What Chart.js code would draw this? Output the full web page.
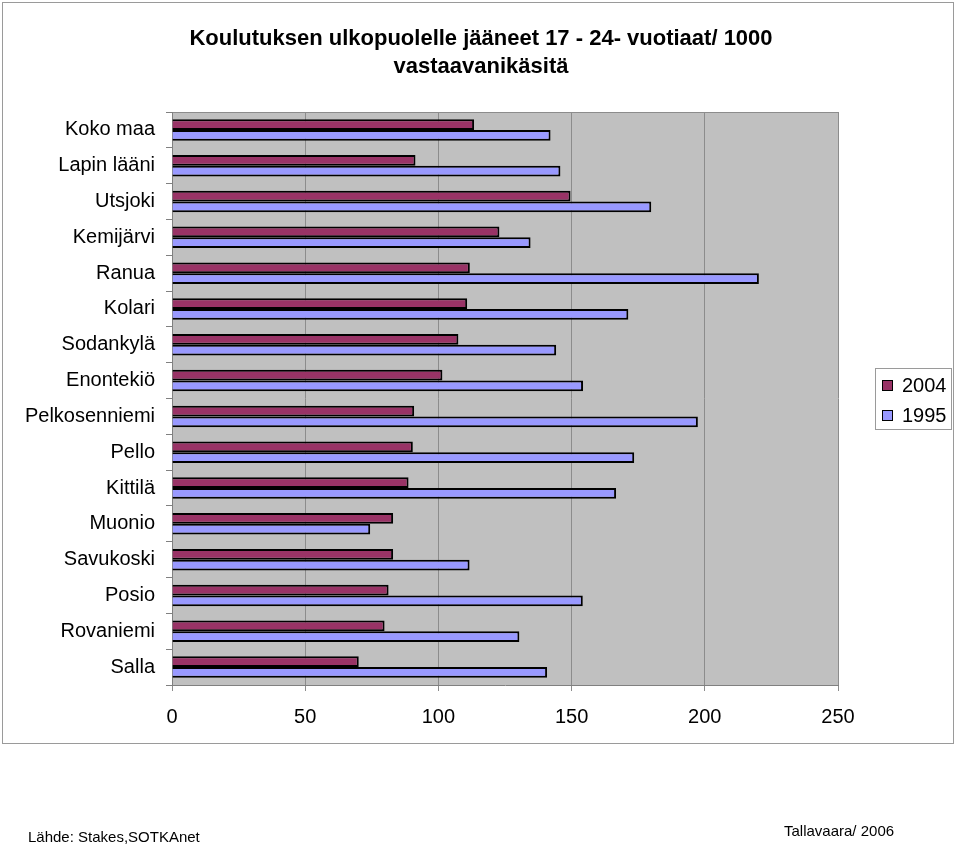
<!DOCTYPE html>
<html>
<head>
<meta charset="utf-8">
<script src="https://cdn.jsdelivr.net/npm/chart.js@4"></script>
<style>
  body { margin: 0; background: #fff; font-family: "Liberation Sans", Arial, sans-serif; }
  #wrap { position: relative; width: 960px; height: 846px; }
  #frame { position: absolute; left: 2px; top: 2px; width: 952px; height: 742px; border: 1px solid #9a9a9a; box-sizing: border-box; }
  #title { position: absolute; left: 0; top: 24px; width: 962px; text-align: center; font-weight: bold; font-size: 22px; line-height: 28px; }
  #legend { position: absolute; left: 875px; top: 368px; width: 77px; height: 62px; border: 1px solid #9a9a9a; box-sizing: border-box; font-size: 20px; }
  .item { position: absolute; left: 6px; height: 20px; line-height: 20px; }
  .swatch { position: absolute; left: 0; top: 5px; width: 11px; height: 11px; border: 1px solid #000; box-sizing: border-box; }
  .item span { position: absolute; left: 20px; top: 0; }
  .foot { position: absolute; font-size: 15px; }
  canvas { position: absolute; left: 0; top: 0; }
</style>
</head>
<body>
<div id="wrap">
  <div id="frame"></div>
  <canvas id="barChart" width="960" height="846"></canvas>
  <div id="title">Koulutuksen ulkopuolelle jääneet 17 - 24- vuotiaat/ 1000<br>vastaavanikäsitä</div>
  <div id="legend">
    <div class="item" style="top:6px"><div class="swatch" style="background:#993366"></div><span>2004</span></div>
    <div class="item" style="top:36px"><div class="swatch" style="background:#9999FF"></div><span>1995</span></div>
  </div>
  <div class="foot" style="left:28px; top:828px;">Lähde: Stakes,SOTKAnet</div>
  <div class="foot" style="left:784px; top:822px;">Tallavaara/ 2006</div>
</div>
<script>
// Chart data
const municipalities = ['Koko maa', 'Lapin lääni', 'Utsjoki', 'Kemijärvi', 'Ranua', 'Kolari', 'Sodankylä',
    'Enontekiö', 'Pelkosenniemi', 'Pello', 'Kittilä', 'Muonio', 'Savukoski', 'Posio', 'Rovaniemi', 'Salla'];
const values2004 = [113.4, 91.4, 149.6, 122.9, 111.8, 110.8, 107.5, 101.5, 90.9, 90.4, 88.8, 83.0, 83.0, 81.3, 79.8, 70.1];
const values1995 = [142.1, 145.8, 179.9, 134.6, 220.3, 171.3, 144.2, 154.3, 197.4, 173.5, 166.7, 74.4, 111.7, 154.2, 130.4, 140.8];
const xTicks = [0, 50, 100, 150, 200, 250];

document.addEventListener('DOMContentLoaded', function () {
    // Grey plot background with a border, like the old Excel chart
    const plotBackground = {
        id: 'plotBackground',
        beforeDraw(chart) {
            const { ctx, chartArea } = chart;
            ctx.save();
            ctx.fillStyle = '#C0C0C0';
            ctx.fillRect(chartArea.left, chartArea.top, chartArea.width, chartArea.height);
            ctx.strokeStyle = '#8c8c8c';
            ctx.lineWidth = 1;
            ctx.beginPath();
            ctx.moveTo(chartArea.left, chartArea.top + 0.5);
            ctx.lineTo(chartArea.right, chartArea.top + 0.5);
            ctx.stroke();
            ctx.restore();
        }
    };

    const ctx = document.getElementById('barChart').getContext('2d');
    new Chart(ctx, {
        type: 'bar',
        data: {
            labels: municipalities,
            datasets: [
                { label: '2004', data: values2004, backgroundColor: '#993366', borderColor: '#000', borderWidth: 2 },
                { label: '1995', data: values1995, backgroundColor: '#9999FF', borderColor: '#000', borderWidth: 2 }
            ]
        },
        plugins: [plotBackground],
        options: {
            indexAxis: 'y',
            responsive: false,
            animation: false,
            categoryPercentage: 0.6,
            barPercentage: 1,
            layout: { padding: { left: 2, right: 122, top: 112, bottom: 101 } },
            plugins: {
                legend: { display: false },
                tooltip: { enabled: false }
            },
            scales: {
                x: {
                    min: 0,
                    max: 250,
                    afterBuildTicks: (axis) => { axis.ticks = xTicks.map(v => ({ value: v })); },
                    afterFit: (axis) => { axis.height = 60; },
                    grid: { color: '#8c8c8c', tickLength: 6, tickColor: '#8c8c8c' },
                    border: { color: '#808080' },
                    ticks: {
                        padding: 14,
                        color: '#000',
                        font: { family: 'Liberation Sans', size: 20 }
                    }
                },
                y: {
                    afterFit: (axis) => { axis.width = 170; },
                    grid: { drawOnChartArea: false, tickLength: 6, tickColor: '#808080' },
                    border: { color: '#808080' },
                    ticks: {
                        padding: 11,
                        color: '#000',
                        autoSkip: false,
                        font: { family: 'Liberation Sans', size: 20 }
                    }
                }
            }
        }
    });
});
</script>
</body>
</html>
